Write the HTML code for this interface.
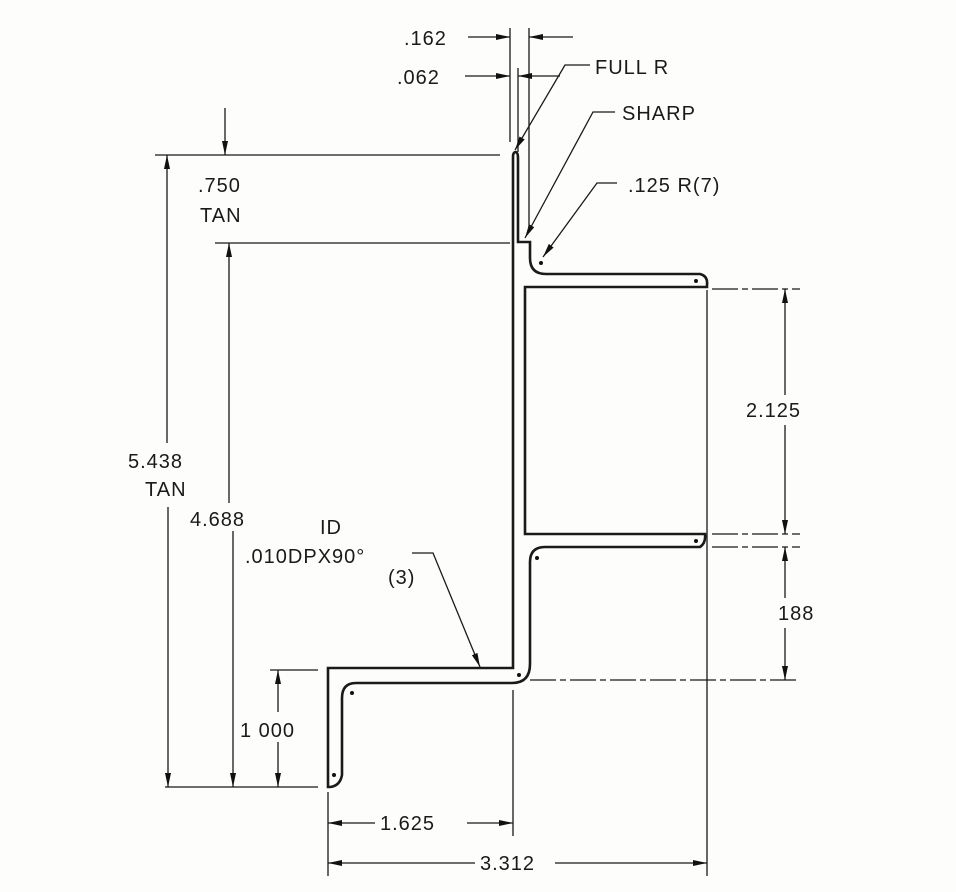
<!DOCTYPE html>
<html><head><style>
html,body{margin:0;padding:0;background:#fff;}
svg{display:block;}
text{font-family:"Liberation Sans",sans-serif;font-size:20px;fill:#1a1a1a;letter-spacing:1px;}
</style></head><body>
<svg width="956" height="892" viewBox="0 0 956 892" xmlns="http://www.w3.org/2000/svg">
<defs>
<marker id="a" viewBox="0 0 14 6" refX="14" refY="3" markerWidth="14" markerHeight="6" markerUnits="userSpaceOnUse" orient="auto">
<path d="M0,0 L14,3 L0,6 Z" fill="#111"/></marker>
</defs>
<rect width="956" height="892" fill="#fdfdfc"/>
<g stroke="#1a1a1a" fill="none" stroke-width="1.3">
<!-- profile outline -->
<path stroke-width="2.6" d="M513,668 L513,157 Q513,152 516,152 Q518,153 518,158 L518,242 L530,242 L530,258 Q530,274 546,274 L700,274 Q708,276 707,285 L707,287 L525,287 L525,534 L705,534 Q706,543 700,547 L545,547 Q530,547 530,562 L530,664 Q530,683 512,683 L356,683 Q342,683 342,698 L342,775 Q340,786 330,787 L328,787 L328,668 Z"/>
<!-- extension lines -->
<path d="M155,155 L500,155 M215,243 L510,243 M165,787 L318,787 M270,670 L318,670 M510,28 L510,142 M529,28 L529,230 M518,68 L518,152 M328,792 L328,876 M513,690 L513,836 M707,290 L707,876"/>
<path d="M712,289 L800,289 M712,534 L800,534 M712,547 L800,547 M530,680 L800,680" stroke-dasharray="26,4,6,4"/>
<!-- dims -->
<path marker-end="url(#a)" d="M468,37 L510,37"/><path marker-end="url(#a)" d="M573,37 L529,37"/>
<path marker-end="url(#a)" d="M465,76 L510,76"/><path marker-end="url(#a)" d="M560,76 L518,76"/>
<path marker-end="url(#a)" d="M590,65 L565,65 L515,150"/>
<path marker-end="url(#a)" d="M615,112 L593,112 L525,238"/>
<path marker-end="url(#a)" d="M617,183 L597,183 L543,257"/>
<path marker-end="url(#a)" d="M225,108 L225,155"/>
<path marker-end="url(#a)" d="M167,443 L167,155"/><path marker-end="url(#a)" d="M168,507 L168,787"/>
<path marker-end="url(#a)" d="M229,503 L229,243"/><path marker-end="url(#a)" d="M233,531 L233,787"/>
<path marker-end="url(#a)" d="M278,712 L278,670"/><path marker-end="url(#a)" d="M278,742 L278,787"/>
<path marker-end="url(#a)" d="M412,553 L433,553 L480,667"/>
<path marker-end="url(#a)" d="M785,395 L785,289"/><path marker-end="url(#a)" d="M785,425 L785,534"/>
<path marker-end="url(#a)" d="M785,598 L785,547"/><path marker-end="url(#a)" d="M785,628 L785,680"/>
<path marker-end="url(#a)" d="M375,823 L328,823"/><path marker-end="url(#a)" d="M467,823 L513,823"/>
<path marker-end="url(#a)" d="M475,863 L328,863"/><path marker-end="url(#a)" d="M555,863 L707,863"/>
</g>
<g fill="#111">
<circle cx="541" cy="263" r="2"/><circle cx="696" cy="281" r="2"/><circle cx="696" cy="541" r="2"/>
<circle cx="537" cy="558" r="2"/><circle cx="519" cy="675" r="2"/><circle cx="352" cy="693" r="2"/><circle cx="334" cy="775" r="2"/>
</g>
<text x="404" y="45">.162</text>
<text x="397" y="84">.062</text>
<text x="595" y="74">FULL R</text>
<text x="622" y="120">SHARP</text>
<text x="628" y="192">.125 R(7)</text>
<text x="198" y="192">.750</text>
<text x="200" y="222">TAN</text>
<text x="128" y="468">5.438</text>
<text x="145" y="496">TAN</text>
<text x="190" y="526">4.688</text>
<text x="320" y="534">ID</text>
<text x="245" y="563">.010DPX90°</text>
<text x="388" y="584">(3)</text>
<text x="240" y="737">1 000</text>
<text x="746" y="417">2.125</text>
<text x="778" y="620">188</text>
<text x="380" y="830">1.625</text>
<text x="480" y="870">3.312</text>
</svg>
</body></html>
